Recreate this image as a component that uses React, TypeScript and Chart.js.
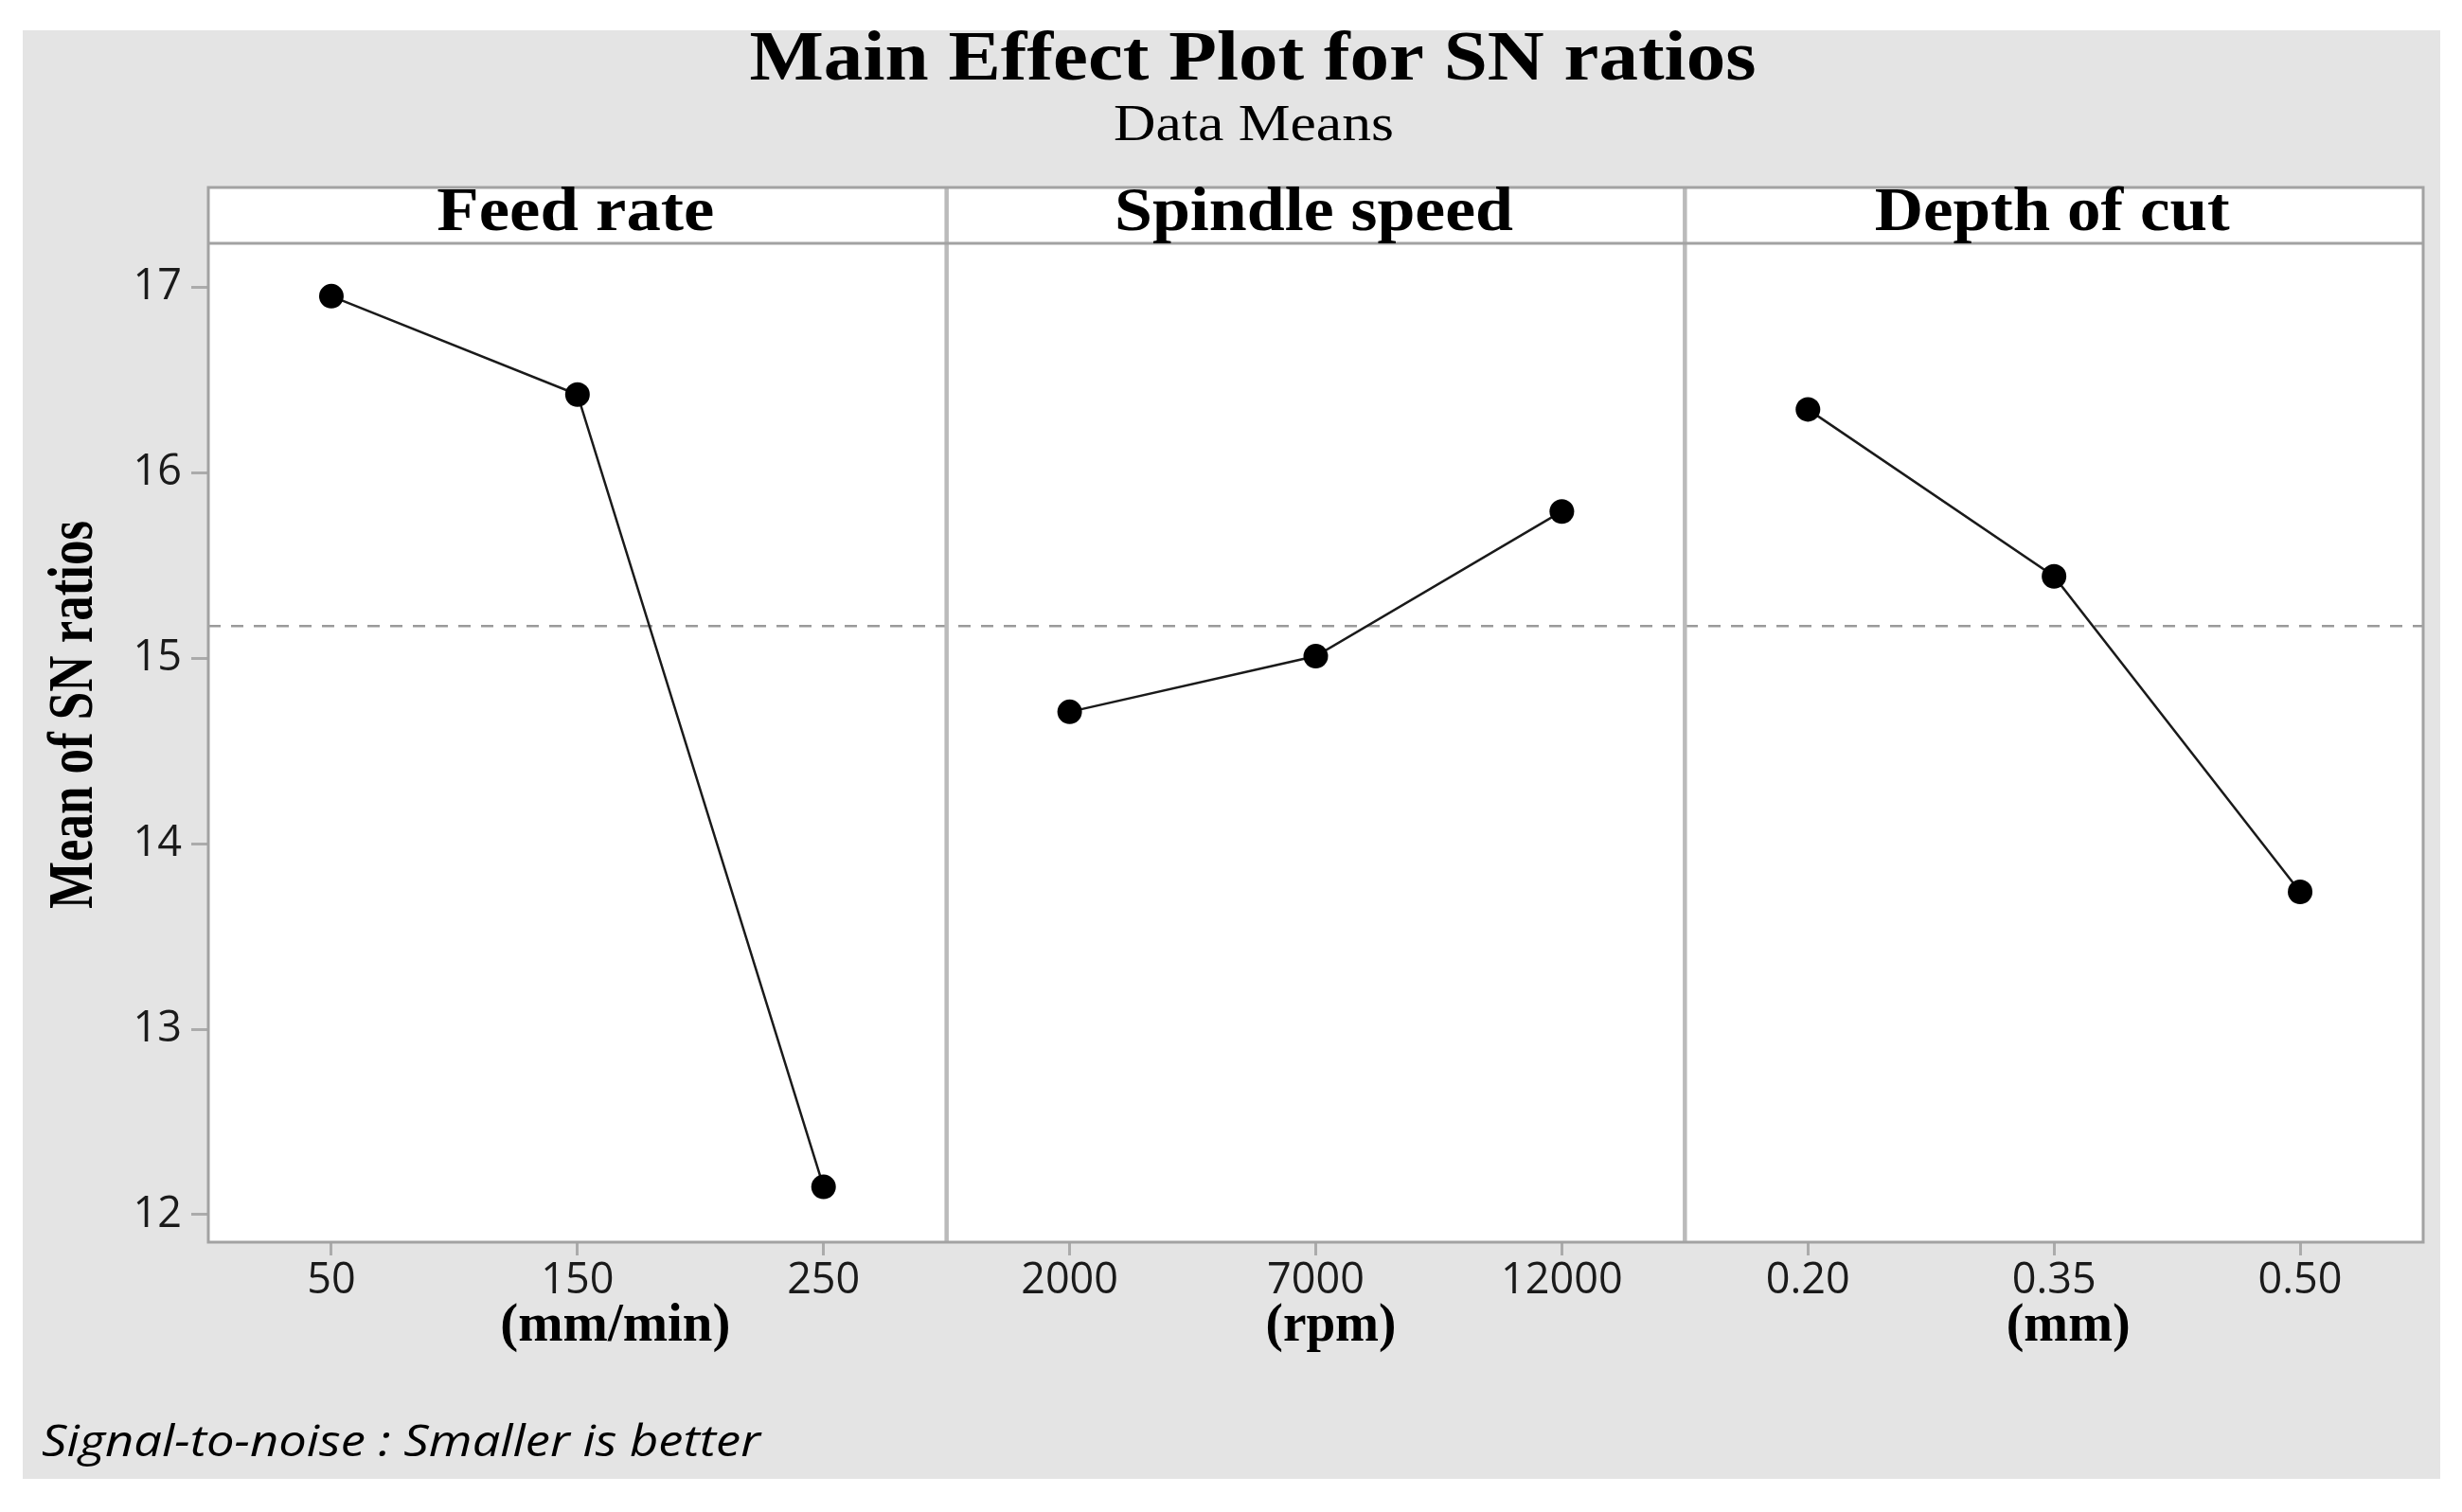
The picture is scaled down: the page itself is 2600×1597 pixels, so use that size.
import React, { useEffect, useRef } from 'react';
import { Chart, registerables } from 'chart.js';

Chart.register(...registerables);

// ---------- data ----------
const chartTitle = 'Main Effect Plot for SN ratios';
const chartSubtitle = 'Data Means';
const yAxisTitle = 'Mean of SN ratios';
const footnote = 'Signal-to-noise : Smaller is better';

const factorNames = ['Feed rate', 'Spindle speed', 'Depth of cut'];
const factorUnits = ['(mm/min)', '(rpm)', '(mm)'];

const feedRateLevels = ['50', '150', '250'];
const spindleSpeedLevels = ['2000', '7000', '12000'];
const depthOfCutLevels = ['0.20', '0.35', '0.50'];

const feedRateMeans = [16.95, 16.42, 12.15];
const spindleSpeedMeans = [14.71, 15.01, 15.79];
const depthOfCutMeans = [16.34, 15.44, 13.74];

const yTickValues = [12, 13, 14, 15, 16, 17];
const yMin = 11.852;
const yMax = 17.235;

// ---------- helpers ----------
const W = 2600;
const H = 1597;
const SERIF = '"Liberation Serif", "Times New Roman", serif';
const SANS = '"Open Sans", "Noto Sans", sans-serif';

function drawFitted(
  ctx: CanvasRenderingContext2D,
  text: string,
  x: number,
  y: number,
  font: string,
  targetW: number,
  align: CanvasTextAlign,
  rotate = 0
) {
  ctx.save();
  ctx.font = font;
  ctx.fillStyle = '#000';
  const w = ctx.measureText(text).width;
  const sx = targetW / w;
  ctx.translate(x, y);
  if (rotate) ctx.rotate(rotate);
  ctx.scale(sx, 1);
  ctx.textAlign = align;
  ctx.textBaseline = 'alphabetic';
  ctx.fillText(text, 0, 0);
  ctx.restore();
}

export default function App() {
  const canvasRef = useRef<HTMLCanvasElement | null>(null);

  useEffect(() => {
    const canvas = canvasRef.current;
    if (!canvas) return;

    const groups = [
      { levels: feedRateLevels, means: feedRateMeans },
      { levels: spindleSpeedLevels, means: spindleSpeedMeans },
      { levels: depthOfCutLevels, means: depthOfCutMeans },
    ];
    const labels = groups.flatMap((g) => g.levels);
    const total = labels.length;
    let offset = 0;
    const datasets = groups.map((g, gi) => {
      const data: (number | null)[] = new Array(total).fill(null);
      g.means.forEach((v, i) => {
        data[offset + i] = v;
      });
      offset += g.levels.length;
      return {
        label: factorNames[gi],
        data,
        borderColor: '#1a1a1a',
        borderWidth: 2.5,
        pointRadius: 13,
        pointHoverRadius: 13,
        pointBackgroundColor: '#000',
        pointBorderColor: '#000',
        pointBorderWidth: 0,
        spanGaps: false,
        tension: 0,
        fill: false,
      };
    });
    const allMeans = groups.flatMap((g) => g.means);
    const grandMean = allMeans.reduce((a, b) => a + b, 0) / allMeans.length;

    const panelPlugin = {
      id: 'panelPlugin',
      beforeDraw(chart: any) {
        const ctx: CanvasRenderingContext2D = chart.ctx;
        const ca = chart.chartArea;
        ctx.save();
        ctx.fillStyle = '#ffffff';
        ctx.fillRect(0, 0, W, H);
        ctx.fillStyle = '#e4e4e4';
        ctx.fillRect(24, 32, 2577 - 24, 1562 - 32);
        ctx.fillStyle = '#ffffff';
        ctx.fillRect(ca.left, ca.top - 59, ca.right - ca.left, ca.bottom - ca.top + 59);
        ctx.restore();
      },
      beforeDatasetsDraw(chart: any) {
        const ctx: CanvasRenderingContext2D = chart.ctx;
        const ca = chart.chartArea;
        const y = chart.scales.y.getPixelForValue(grandMean);
        ctx.save();
        ctx.strokeStyle = '#9a9a9a';
        ctx.lineWidth = 2.5;
        ctx.setLineDash([13, 11]);
        ctx.beginPath();
        ctx.moveTo(ca.left, y);
        ctx.lineTo(ca.right, y);
        ctx.stroke();
        ctx.restore();
      },
      afterDraw(chart: any) {
        const ctx: CanvasRenderingContext2D = chart.ctx;
        const ca = chart.chartArea;
        const xs = chart.scales.x;
        const headTop = ca.top - 59;
        ctx.save();
        // panel dividers
        ctx.strokeStyle = '#bababa';
        ctx.lineWidth = 4.5;
        let idx = 0;
        const bounds: number[] = [ca.left];
        groups.forEach((g, gi) => {
          idx += g.levels.length;
          const px = xs.getPixelForValue(idx - 0.5);
          if (gi < groups.length - 1) {
            ctx.beginPath();
            ctx.moveTo(px, headTop);
            ctx.lineTo(px, ca.bottom);
            ctx.stroke();
            bounds.push(px);
          }
        });
        bounds.push(ca.right);
        // header line and frame
        ctx.strokeStyle = '#a2a2a2';
        ctx.lineWidth = 3;
        ctx.beginPath();
        ctx.moveTo(ca.left, ca.top);
        ctx.lineTo(ca.right, ca.top);
        ctx.stroke();
        ctx.strokeRect(ca.left, headTop, ca.right - ca.left, ca.bottom - headTop);
        ctx.restore();

        // panel titles
        const headerWidths = [293, 421, 375];
        const unitWidths = [243, 138, 131];
        const unitShift = [40, 16, 15];
        let start = 0;
        groups.forEach((g, gi) => {
          const cx = (bounds[gi] + bounds[gi + 1]) / 2;
          drawFitted(ctx, factorNames[gi], cx - 2, ca.top - 14, `bold 66px ${SERIF}`, headerWidths[gi], 'center');
          const mid = xs.getPixelForValue(start + (g.levels.length - 1) / 2);
          drawFitted(ctx, factorUnits[gi], mid + unitShift[gi], 1416, `bold 57px ${SERIF}`, unitWidths[gi], 'center');
          start += g.levels.length;
        });

        // title, subtitle
        drawFitted(ctx, chartTitle, 1323, 84, `bold 74px ${SERIF}`, 1063, 'center');
        drawFitted(ctx, chartSubtitle, 1324, 148, `54px ${SERIF}`, 296, 'center');
        // y axis title
        drawFitted(ctx, yAxisTitle, 97, 755, `bold 68px ${SERIF}`, 410, 'center', -Math.PI / 2);
        // footnote
        drawFitted(ctx, footnote, 44, 1538, `italic 46px ${SANS}`, 759, 'left');
      },
    };

    const chart = new Chart(canvas, {
      type: 'line',
      data: { labels, datasets },
      options: {
        animation: false,
        responsive: false,
        devicePixelRatio: 1,
        events: [],
        layout: { padding: { top: 257, right: 41, bottom: 0, left: 0 } },
        plugins: {
          legend: { display: false },
          title: { display: false },
          tooltip: { enabled: false },
        },
        scales: {
          x: {
            type: 'category',
            offset: true,
            border: { display: false },
            grid: {
              offset: false,
              drawOnChartArea: false,
              drawTicks: true,
              tickLength: 14,
              color: '#ababab',
              lineWidth: 3,
            },
            ticks: {
              color: '#1a1a1a',
              font: { family: SANS, size: 45 },
              padding: 0,
              maxRotation: 0,
              autoSkip: false,
            },
            afterFit(scale: any) {
              scale.height = H - 1312;
            },
          },
          y: {
            type: 'linear',
            min: yMin,
            max: yMax,
            border: { display: false },
            grid: {
              drawOnChartArea: false,
              drawTicks: true,
              tickLength: 18,
              color: '#ababab',
              lineWidth: 3,
            },
            ticks: {
              color: '#1a1a1a',
              font: { family: SANS, size: 45 },
              padding: 10,
            },
            afterBuildTicks(scale: any) {
              scale.ticks = yTickValues.map((v) => ({ value: v }));
            },
            afterFit(scale: any) {
              scale.width = 220;
            },
          },
        },
      },
      plugins: [panelPlugin],
    } as any);

    return () => {
      chart.destroy();
    };
  }, []);

  return (
    <div style={{ position: 'absolute', left: 0, top: 0, width: W, height: H }}>
      <canvas ref={canvasRef} width={W} height={H} style={{ width: W, height: H, display: 'block' }} />
    </div>
  );
}
